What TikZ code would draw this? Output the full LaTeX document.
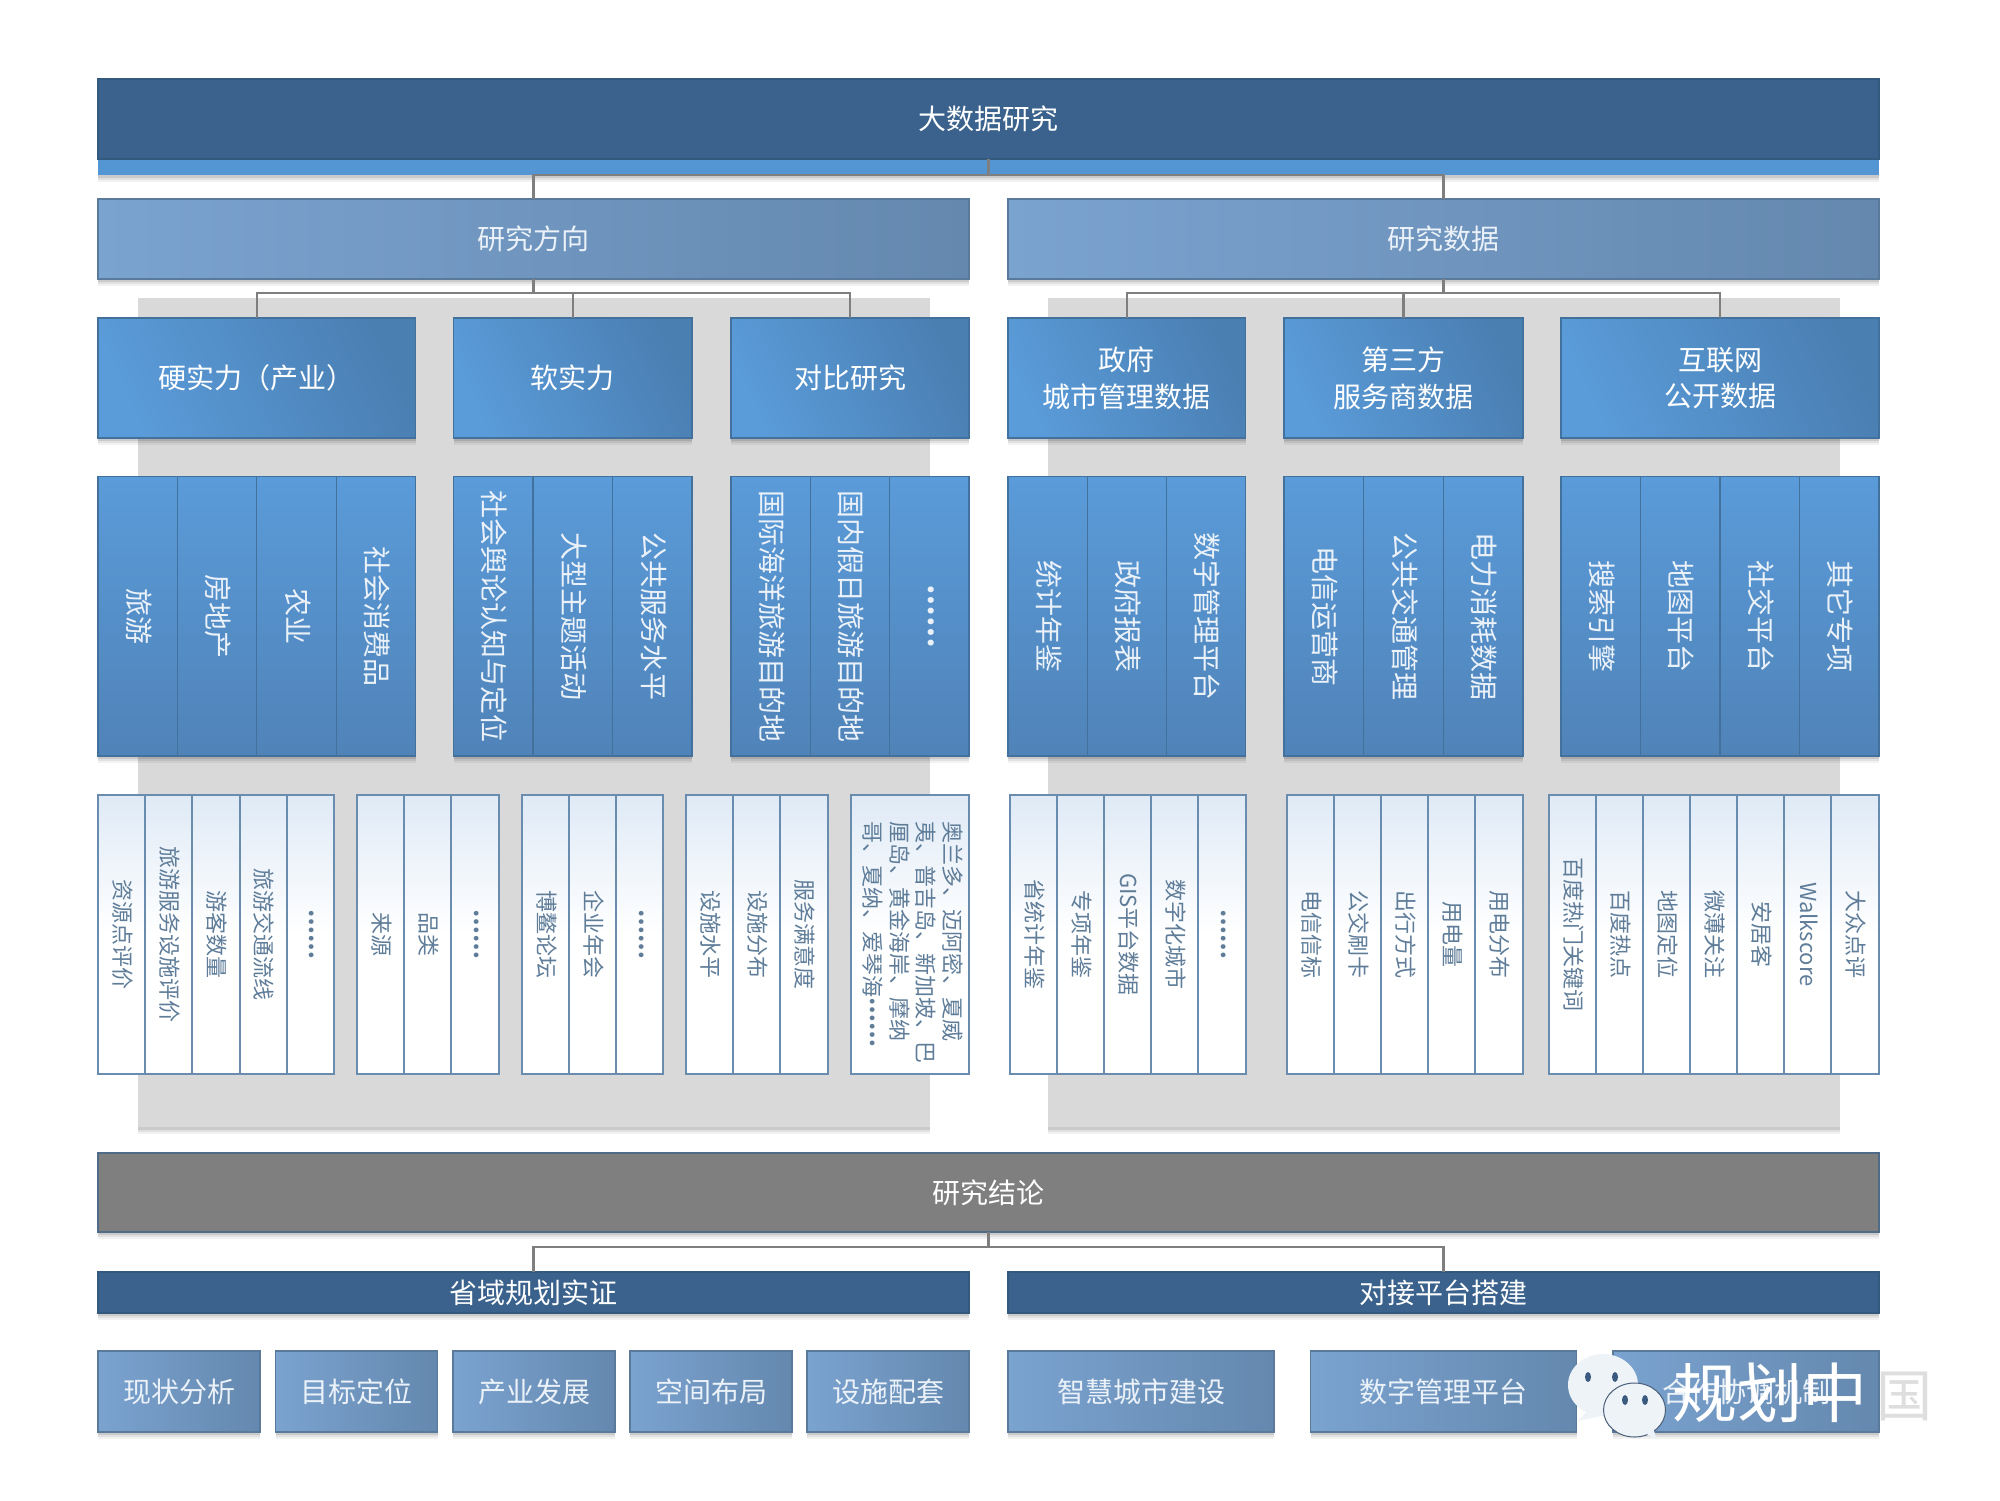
\documentclass[tikz,border=0pt]{standalone}
\usepackage{fontspec}
\usepackage{graphicx}
\setmainfont{Noto Sans CJK SC}
\usetikzlibrary{shadows}
\definecolor{panelgray}{HTML}{D9D9D9}
\definecolor{linkgray}{HTML}{7F7F7F}
\definecolor{navy}{HTML}{3A628C}
\definecolor{navyedge}{HTML}{33597F}
\definecolor{stripblue}{HTML}{5496D4}
\definecolor{midL}{HTML}{7BA3D0}
\definecolor{midR}{HTML}{6488AE}
\definecolor{midedge}{HTML}{5A7A9C}
\definecolor{brightL}{HTML}{5A9BD9}
\definecolor{brightR}{HTML}{4A7FB2}
\definecolor{colbottom}{HTML}{5083B8}
\definecolor{brightedge}{HTML}{41719C}
\definecolor{concl}{HTML}{7F7F7F}
\definecolor{concledge}{HTML}{4F6B88}
\definecolor{paletop}{HTML}{DFEAF6}
\definecolor{paleedge}{HTML}{6A8CAE}
\definecolor{paletext}{HTML}{5F7D99}
\definecolor{softwhite}{HTML}{EAF1F8}
\definecolor{bubble}{HTML}{EEF3F8}
\definecolor{bubbleedge}{HTML}{4A5F78}
\definecolor{eye}{HTML}{3A5A80}
\newcommand{\hstrut}{\rule[-0.18em]{0pt}{1em}}
\newcommand{\rowdots}{\raisebox{.3em}{\bfseries ……}}
\newcommand{\bx}[7]{%
  \pgfmathsetmacro\bxcx{(#2+#4)/2}%
  \pgfmathsetmacro\bxcy{(#3+#5)/2}%
  \pgfmathsetmacro\bxw{#4-#2}%
  \pgfmathsetmacro\bxh{#5-#3}%
  \node[#6,minimum width=\bxw pt,minimum height=\bxh pt] (#1) at (\bxcx,\bxcy) {#7};}
% prefix, x1, x2, y1, y2, n, style, list
\newcommand{\cols}[8]{%
  \foreach \lbl [count=\i] in {#8}{%
    \pgfmathsetmacro\colA{#2+(\i-1)*(#3-#2)/#6}%
    \pgfmathsetmacro\colB{#2+\i*(#3-#2)/#6}%
    \bx{#1-\i}{\colA}{#4}{\colB}{#5}{#7}{\rotatebox{-90}{\hstrut\lbl}}%
  }}
\tikzset{
  every node/.style={inner sep=0pt,outer sep=0pt},
  softshadow/.style={
    drop shadow={shadow xshift=0pt,shadow yshift=-7pt,opacity=.05,fill=black},
    drop shadow={shadow xshift=0pt,shadow yshift=-5pt,opacity=.07,fill=black},
    drop shadow={shadow xshift=0pt,shadow yshift=-3pt,opacity=.10,fill=black}},
  topbar/.style={draw=navyedge,line width=1.5pt,fill=navy,text=white,font=\fontsize{28}{36}\selectfont},
  stripbar/.style={fill=stripblue,softshadow},
  midbox/.style={softshadow,draw=midedge,line width=1.5pt,left color=midL,right color=midR,text=softwhite,font=\fontsize{28}{36}\selectfont},
  headbox/.style={softshadow,draw=brightedge,line width=1.5pt,left color=brightL,right color=brightR,shading angle=115,text=white,align=center,font=\fontsize{28}{36.7}\selectfont},
  colbox/.style={softshadow,draw=brightedge,line width=1.2pt,top color=brightL,bottom color=colbottom,text=softwhite,font=\fontsize{28}{36}\selectfont},
  palebox/.style={draw=paleedge,line width=2pt,top color=paletop,bottom color=white,middle color=white,text=paletext,font=\fontsize{22}{26.7}\selectfont},
  conclbox/.style={softshadow,draw=concledge,line width=1.5pt,fill=concl,text=white,font=\fontsize{28}{36}\selectfont},
  subbar/.style={softshadow,draw=navyedge,line width=1.5pt,fill=navy,text=white,font=\fontsize{28}{36}\selectfont},
  linkline/.style={draw=linkgray,line width=2.5pt},
  panel/.style={fill=panelgray,softshadow},
}
\begin{document}
\begin{tikzpicture}[x=1pt,y=-1pt]
\useasboundingbox (0,0) rectangle (2000,1500);
% grey panels
\fill[panel] (138,298) rectangle (930,1127);
\fill[panel] (1047.5,298) rectangle (1840,1127);
% top bars
\bx{strip}{98}{158}{1879}{175}{stripbar}{}
\bx{top}{98}{79}{1879}{159}{topbar}{大数据研究}
\bx{dir}{98}{199}{969}{279}{midbox}{研究方向}
\bx{data}{1008}{199}{1879}{279}{midbox}{研究数据}
% third row
\bx{hard}{98}{318}{415.5}{438}{headbox}{硬实力（产业）}
\bx{soft}{453.5}{318}{692}{438}{headbox}{软实力}
\bx{comp}{731}{318}{969}{438}{headbox}{对比研究}
\bx{gov}{1008}{318}{1245.5}{438}{headbox}{政府\\城市管理数据}
\bx{third}{1284}{318}{1523}{438}{headbox}{第三方\\服务商数据}
\bx{net}{1561}{318}{1879}{438}{headbox}{互联网\\公开数据}
% bottom bars
\bx{end}{98}{1153}{1879}{1232}{conclbox}{研究结论}
\bx{prov}{98}{1272}{969}{1313}{subbar}{省域规划实证}
\bx{plat}{1008}{1272}{1879}{1313}{subbar}{对接平台搭建}
% connectors
\coordinate (e0) at (0,175);
\coordinate (e1) at (0,293);
\coordinate (e2) at (0,1247);
\draw[linkline] (top.south) -- (top.south |- e0) -| (dir.north);
\draw[linkline] (top.south |- e0) -| (data.north);
\draw[linkline] (dir.south) -- (dir.south |- e1) -| (hard.north);
\draw[linkline] (dir.south |- e1) -| (soft.north);
\draw[linkline] (dir.south |- e1) -| (comp.north);
\draw[linkline] (data.south) -- (data.south |- e1) -| (gov.north);
\draw[linkline] (data.south |- e1) -| (third.north);
\draw[linkline] (data.south |- e1) -| (net.north);
\draw[linkline] (end.south) -- (end.south |- e2) -| (prov.north);
\draw[linkline] (end.south |- e2) -| (plat.north);
% fourth row
\cols{a}{98}{415.5}{476.5}{756}{4}{colbox}{旅游,房地产,农业,社会消费品}
\cols{b}{453.5}{692}{476.5}{756}{3}{colbox}{社会舆论认知与定位,大型主题活动,公共服务水平}
\cols{c}{731}{969}{476.5}{756}{3}{colbox}{国际海洋旅游目的地,国内假日旅游目的地,\rowdots}
\cols{d}{1008}{1245.5}{476.5}{756}{3}{colbox}{统计年鉴,政府报表,数字管理平台}
\cols{e}{1284}{1523}{476.5}{756}{3}{colbox}{电信运营商,公共交通管理,电力消耗数据}
\cols{f}{1561}{1879}{476.5}{756}{4}{colbox}{搜索引擎,地图平台,社交平台,其它专项}
% fifth row
\cols{g}{98}{334}{795}{1074}{5}{palebox}{资源点评价,旅游服务设施评价,游客数量,旅游交通流线,\rowdots}
\cols{h}{357}{498.5}{795}{1074}{3}{palebox}{来源,品类,\rowdots}
\cols{i}{522}{663}{795}{1074}{3}{palebox}{博鳌论坛,企业年会,\rowdots}
\cols{j}{686}{827.5}{795}{1074}{3}{palebox}{设施水平,设施分布,服务满意度}
\bx{k}{851}{795}{968.5}{1074}{palebox}{\rotatebox{-90}{\hspace{16pt}\begin{tabular}{@{}l@{}}奥兰多、迈阿密、夏威\\夷、普吉岛、新加坡、巴\\厘岛、黄金海岸、摩纳\\哥、夏纳、爱琴海\rowdots\end{tabular}}}
\cols{l}{1010}{1245.5}{795}{1074}{5}{palebox}{省统计年鉴,专项年鉴,GIS平台数据,数字化城市,\rowdots}
\cols{m}{1287}{1522.5}{795}{1074}{5}{palebox}{电信信标,公交刷卡,出行方式,用电量,用电分布}
\cols{n}{1549}{1878.5}{795}{1074}{7}{palebox}{百度热门关键词,百度热点,地图定位,微薄关注,安居客,Walkscore,大众点评}
% last row
\bx{o1}{98}{1351}{260}{1432}{midbox}{现状分析}
\bx{o2}{275.5}{1351}{437.5}{1432}{midbox}{目标定位}
\bx{o3}{453}{1351}{615}{1432}{midbox}{产业发展}
\bx{o4}{630}{1351}{792}{1432}{midbox}{空间布局}
\bx{o5}{807}{1351}{969}{1432}{midbox}{设施配套}
\bx{p1}{1008}{1351}{1274}{1432}{midbox}{智慧城市建设}
\bx{p2}{1310.5}{1351}{1576.5}{1432}{midbox}{数字管理平台}
\bx{p3}{1613}{1351}{1879}{1432}{midbox}{合作协调机制}
% watermark
\fill[bubble] (1603,1385) ellipse [x radius=35,y radius=31];
\fill[bubble] (1578,1421) -- (1590,1408) -- (1606,1415) -- (1597,1417) -- cycle;
\fill[eye] (1588,1377) ellipse [x radius=3,y radius=5];
\fill[eye] (1615,1377) ellipse [x radius=3,y radius=5];
\draw[bubbleedge,line width=1pt,fill=bubble] (1634.5,1410) ellipse [x radius=31,y radius=27];
\fill[bubble] (1640,1430) -- (1657,1440) -- (1652,1425) -- cycle;
\fill[eye] (1625,1400) ellipse [x radius=3,y radius=5];
\fill[eye] (1645,1400) ellipse [x radius=3,y radius=5];
\node[text=white,font=\fontsize{65}{65}\selectfont] (wm) at (1770,1393) {规划中};
\node[text=black!13,font=\fontsize{56}{56}\selectfont] (wm2) at (1904,1396) {国};
\end{tikzpicture}
\end{document}
